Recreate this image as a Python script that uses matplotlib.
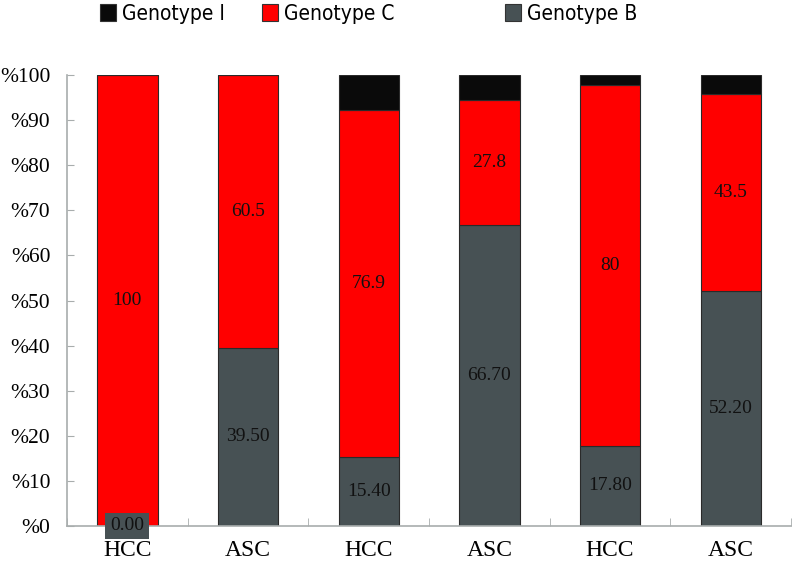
import matplotlib
matplotlib.use("Agg")
import matplotlib.pyplot as plt
from matplotlib.patches import Patch
from matplotlib.font_manager import FontProperties
import numpy as np

categories = ["HCC", "ASC", "HCC", "ASC", "HCC", "ASC"]
genotype_b = [0.0, 39.5, 15.4, 66.7, 17.8, 52.2]
genotype_c = [100.0, 60.5, 76.9, 27.8, 80.0, 43.5]
genotype_i = [0.0, 0.0, 7.7, 5.5, 2.2, 4.3]
labels_b = ["0.00", "39.50", "15.40", "66.70", "17.80", "52.20"]
labels_c = ["100", "60.5", "76.9", "27.8", "80", "43.5"]
yticks = [0, 10, 20, 30, 40, 50, 60, 70, 80, 90, 100]
ytick_labels = ["%" + str(v) for v in yticks]

col_b = "#475154"
col_c = "#ff0000"
col_i = "#0a0a0a"
edge = "#2a2a2a"
axis_col = "#a8adad"

fig = plt.figure(figsize=(7.94, 5.8), dpi=100)
ax = fig.add_axes([67/794, 1-526/580, (791-67)/794, (526-75)/580])

x = np.arange(len(categories))
b = np.array(genotype_b)
c = np.array(genotype_c)
i_ = np.array(genotype_i)
w = 0.5
ax.bar(x, b, w, color=col_b, edgecolor=edge, linewidth=0.8)
ax.bar(x, c, w, bottom=b, color=col_c, edgecolor=edge, linewidth=0.8)
ax.bar(x, i_, w, bottom=b + c, color=col_i, edgecolor=edge, linewidth=0.8)

serif = "Liberation Serif"
for k in range(len(x)):
    if b[k] > 0:
        ax.text(x[k], b[k] / 2, labels_b[k], ha="center", va="center",
                fontsize=14, family=serif, color="#111111")
    else:
        ax.text(x[k], 0, labels_b[k], ha="center", va="center",
                fontsize=14, family=serif, color="#111111",
                bbox=dict(boxstyle="square,pad=0.25", fc=col_b, ec="none"),
                zorder=5, clip_on=False)
    ax.text(x[k], b[k] + c[k] / 2, labels_c[k], ha="center", va="center",
            fontsize=14, family=serif, color="#111111")

ax.set_xlim(-0.5, len(x) - 0.5)
ax.set_ylim(0, 100)
ax.set_yticks(yticks)
ax.set_yticklabels(ytick_labels, family=serif, fontsize=15.5)
ax.set_xticks(x)
ax.set_xticklabels(categories, family=serif, fontsize=17)
ax.set_xticks(np.arange(len(x) + 1) - 0.5, minor=True)
ax.tick_params(axis="x", which="major", length=0, pad=10)
ax.tick_params(axis="x", which="minor", direction="in", length=6, color=axis_col)
ax.tick_params(axis="y", direction="in", length=5, color=axis_col, pad=12)
for s in ["top", "right"]:
    ax.spines[s].set_visible(False)
for s in ["left", "bottom"]:
    ax.spines[s].set_color(axis_col)
    ax.spines[s].set_linewidth(1.2)

leg_font = FontProperties(family="DejaVu Sans", stretch="condensed", size=15)
entries = [("Genotype I", col_i, 100), ("Genotype C", col_c, 262), ("Genotype B", col_b, 505)]
for name, col, px in entries:
    h = Patch(facecolor=col, edgecolor="#333333", linewidth=0.8)
    fig.legend([h], [name], loc="center left", bbox_to_anchor=(px / 794, 1 - 14 / 580),
               frameon=False, prop=leg_font, handlelength=0.75, handleheight=0.9,
               handletextpad=0.3, borderpad=0, borderaxespad=0)

fig.savefig("out.png", dpi=100)
